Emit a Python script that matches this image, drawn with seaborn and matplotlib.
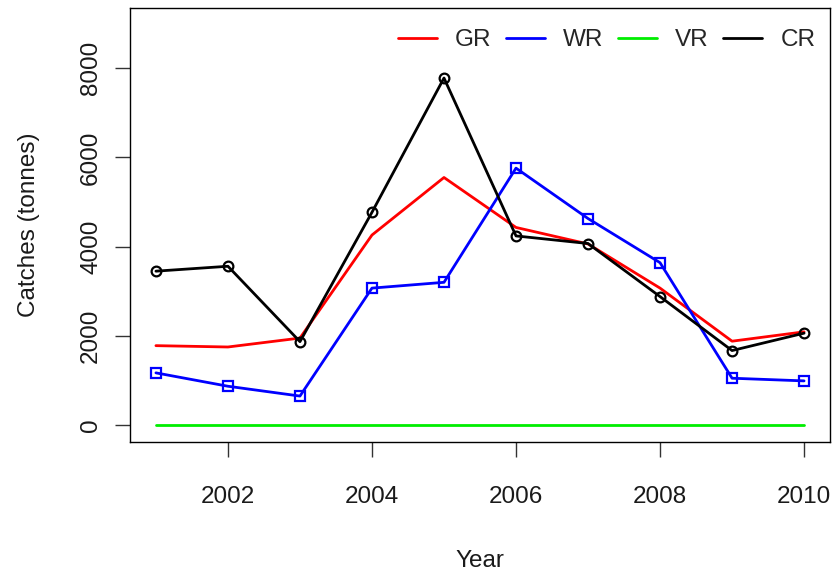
import matplotlib
matplotlib.use("Agg")
import matplotlib.pyplot as plt
from matplotlib.lines import Line2D
import seaborn as sns
import pandas as pd

years = [2001, 2002, 2003, 2004, 2005, 2006, 2007, 2008, 2009, 2010]
GR = [1780, 1750, 1950, 4260, 5550, 4430, 4060, 3070, 1880, 2090]
WR = [1170, 870, 650, 3070, 3200, 5760, 4630, 3640, 1050, 990]
VR = [0, 0, 0, 0, 0, 0, 0, 0, 0, 0]
CR = [3450, 3560, 1870, 4770, 7780, 4240, 4070, 2880, 1670, 2060]

series_names = ["GR", "WR", "VR", "CR"]
series_vals = [GR, WR, VR, CR]
colors = ["#ff0000", "#0000ff", "#00ee00", "#000000"]
markers = [None, "s", None, "o"]
xticks = [2002, 2004, 2006, 2008, 2010]
yticks = [0, 2000, 4000, 6000, 8000]

sns.set_style("white")
plt.rcParams["font.family"] = ["Liberation Sans", "DejaVu Sans"]

FS = 17.5
fig = plt.figure(figsize=(8.34, 5.72), dpi=100)
ax = fig.add_axes([130 / 834, 1 - 442 / 572, 700 / 834, 434 / 572])

for name, vals, c, m in zip(series_names, series_vals, colors, markers):
    df = pd.DataFrame({"Year": years, "Catch": vals})
    kw = dict(color=c, linewidth=2.0)
    if m is not None:
        kw.update(marker=m, markersize=7, markerfacecolor="none",
                  markeredgecolor=c, markeredgewidth=1.6)
    sns.lineplot(data=df, x="Year", y="Catch", ax=ax, **kw)

ax.set_xlim(2000.64, 2010.36)
ax.set_ylim(-380, 9350)
ax.set_xticks(xticks)
ax.set_xticklabels([str(t) for t in xticks])
ax.set_yticks(yticks)
ax.set_yticklabels([str(t) for t in yticks], rotation=90, va="center")

for s in ax.spines.values():
    s.set_visible(True)
    s.set_color("black")
    s.set_linewidth(1.0)

ax.tick_params(axis="both", direction="out", length=11, width=1.0,
               colors="#333333", labelcolor="#1a1a1a", labelsize=FS)
ax.tick_params(axis="x", pad=21, bottom=True)
ax.tick_params(axis="y", pad=9, left=True)

ax.set_xlabel("Year", fontsize=FS, color="#1a1a1a", labelpad=30)
ax.set_ylabel("Catches (tonnes)", fontsize=FS, color="#1a1a1a", labelpad=29)

handles = [Line2D([0], [0], color=c, linewidth=2.0) for c in colors]
ax.legend(handles, series_names, loc="upper right", ncol=4, frameon=False,
          fontsize=FS, handlelength=1.6, handletextpad=0.75,
          columnspacing=0.6, bbox_to_anchor=(1.0, 0.985), borderaxespad=0.2)

fig.savefig("out.png", dpi=100)
